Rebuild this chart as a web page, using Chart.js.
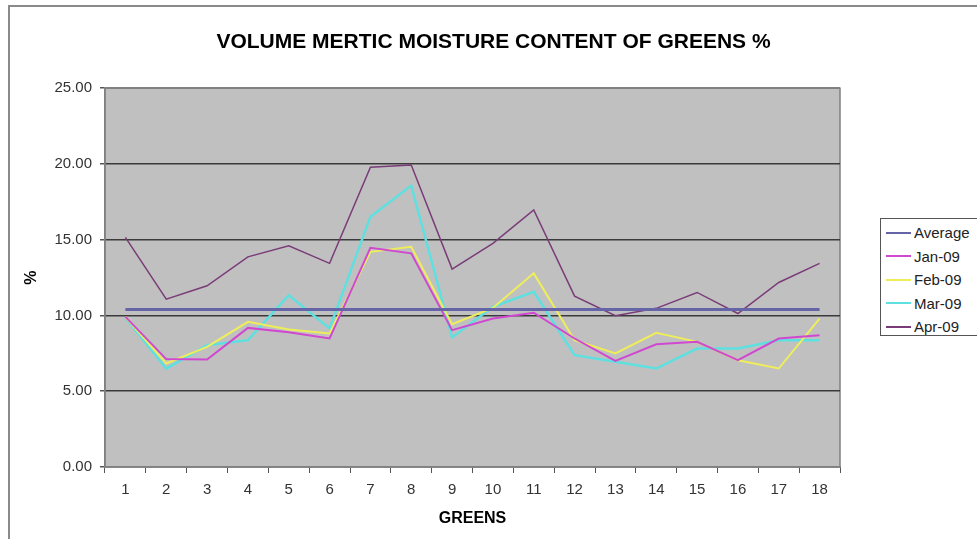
<!DOCTYPE html>
<html>
<head>
<meta charset="utf-8">
<script src="https://cdn.jsdelivr.net/npm/chart.js@4/dist/chart.umd.min.js"></script>
<style>
  html, body { margin: 0; padding: 0; background: #fff; }
  #wrap { position: relative; width: 977px; height: 539px; overflow: hidden; }
  #frame { position: absolute; left: 8px; top: 5px; width: 1000px; height: 600px;
           border-left: 2px solid #8a8a8a; border-top: 2px solid #8a8a8a; }
  canvas { position: absolute; left: 0; top: 0; }
  #legend { position: absolute; left: 880px; top: 218px; width: 110px; height: 118px;
            border: 1px solid #555; background: #fff; font: 15px "Liberation Sans", Arial, sans-serif;
            color: #222; box-sizing: border-box; padding-top: 2px; }
  #legend .row { height: 23.5px; display: flex; align-items: center; }
  #legend .swatch { width: 25px; height: 2px; margin-left: 5px; margin-right: 3px; }
</style>
</head>
<body>
<div id="wrap">
  <div id="frame"></div>
  <canvas id="chart" width="977" height="539"></canvas>
  <div id="legend"></div>
</div>
<script>
const greens = ["1","2","3","4","5","6","7","8","9","10","11","12","13","14","15","16","17","18"];
const average = [10.4, 10.4, 10.4, 10.4, 10.4, 10.4, 10.4, 10.4, 10.4, 10.4, 10.4, 10.4, 10.4, 10.4, 10.4, 10.4, 10.4, 10.4];
const jan09 = [9.91, 7.12, 7.10, 9.18, 8.90, 8.48, 14.47, 14.10, 9.03, 9.80, 10.18, 8.48, 7.00, 8.10, 8.26, 7.05, 8.48, 8.70];
const feb09 = [9.90, 6.83, 7.93, 9.58, 9.08, 8.81, 14.20, 14.53, 9.43, 10.50, 12.78, 8.37, 7.49, 8.86, 8.26, 7.05, 6.50, 9.80];
const mar09 = [9.85, 6.50, 8.04, 8.37, 11.34, 9.14, 16.52, 18.57, 8.55, 10.57, 11.56, 7.38, 6.94, 6.50, 7.82, 7.82, 8.37, 8.37];
const apr09 = [15.16, 11.08, 11.96, 13.87, 14.60, 13.44, 19.78, 19.93, 13.06, 14.76, 16.96, 11.28, 9.98, 10.47, 11.52, 10.13, 12.18, 13.44];
const yTicks = [0, 5, 10, 15, 20, 25];

const FONT = "'Liberation Sans', Arial, sans-serif";

const series = [
  { label: "Average", data: average, color: "#6464a6", width: 3 },
  { label: "Jan-09", data: jan09, color: "#d048d0", width: 2 },
  { label: "Feb-09", data: feb09, color: "#eeee5a", width: 2 },
  { label: "Mar-09", data: mar09, color: "#5ee0e0", width: 2.5 },
  { label: "Apr-09", data: apr09, color: "#7a3c78", width: 1.5 },
];

// gray plot area with border, like the Excel chart
const plotBg = {
  id: "plotBg",
  beforeDraw(chart) {
    const { ctx, chartArea: a } = chart;
    ctx.save();
    ctx.fillStyle = "#c0c0c0";
    ctx.fillRect(a.left, a.top, a.right - a.left, a.bottom - a.top);
    ctx.strokeStyle = "#808080";
    ctx.lineWidth = 1.5;
    ctx.strokeRect(a.left, a.top, a.right - a.left, a.bottom - a.top);
    ctx.restore();
  },
};

new Chart(document.getElementById("chart"), {
  type: "line",
  data: {
    labels: greens,
    datasets: series.map(s => ({
      label: s.label, data: s.data, borderColor: s.color, backgroundColor: s.color,
      borderWidth: s.width, pointRadius: 0, tension: 0, fill: false,
    })),
  },
  options: {
    responsive: false,
    animation: false,
    layout: { padding: { left: 10, right: 0, top: 0, bottom: 0 } },
    plugins: {
      legend: { display: false },
      tooltip: { enabled: false },
      title: {
        display: true,
        text: "VOLUME MERTIC MOISTURE CONTENT OF GREENS %",
        color: "#000",
        font: { family: FONT, size: 21, weight: "bold" },
        padding: { top: 30, bottom: 33 },
      },
    },
    scales: {
      x: {
        offset: true,
        afterFit(scale) { scale.height = 72; },
        grid: { offset: true, drawOnChartArea: false, drawTicks: true, tickLength: 6, color: "#555" },
        border: { display: true, color: "#808080", width: 1.5 },
        ticks: { color: "#333", font: { family: FONT, size: 15 }, padding: 8, maxRotation: 0, autoSkip: false },
        title: { display: true, text: "GREENS", color: "#000",
                 font: { family: FONT, size: 16, weight: "bold" }, padding: { top: 0, bottom: 11 } },
      },
      y: {
        min: 0, max: 25,
        afterFit(scale) { scale.width = 95; },
        afterBuildTicks(scale) { scale.ticks = yTicks.map(v => ({ value: v })); },
        grid: {
          color: c => (c.tick.value === 0 || c.tick.value === 25) ? "#808080" : "#3a3a3a",
          lineWidth: 1.5, tickLength: 5, tickColor: "#555",
        },
        border: { display: true, color: "#808080", width: 1.5 },
        ticks: { color: "#333", font: { family: FONT, size: 15 }, padding: 8,
                 callback: v => Number(v).toFixed(2) },
        title: { display: true, text: "%", color: "#000",
                 font: { family: FONT, size: 16, weight: "bold" }, padding: { top: 12, bottom: 0 } },
      },
      // empty right-hand axis that reserves the space the legend sits in
      legendSpace: {
        position: "right",
        afterFit(scale) { scale.width = 137; },
        grid: { display: false },
        border: { display: false },
        ticks: { display: false },
      },
    },
  },
  plugins: [plotBg],
});

const legendEl = document.getElementById("legend");
legendEl.innerHTML = series.map(s => `
  <div class="row"><span class="swatch" style="background:${s.color}"></span><span>${s.label}</span></div>`).join("");
</script>
</body>
</html>
